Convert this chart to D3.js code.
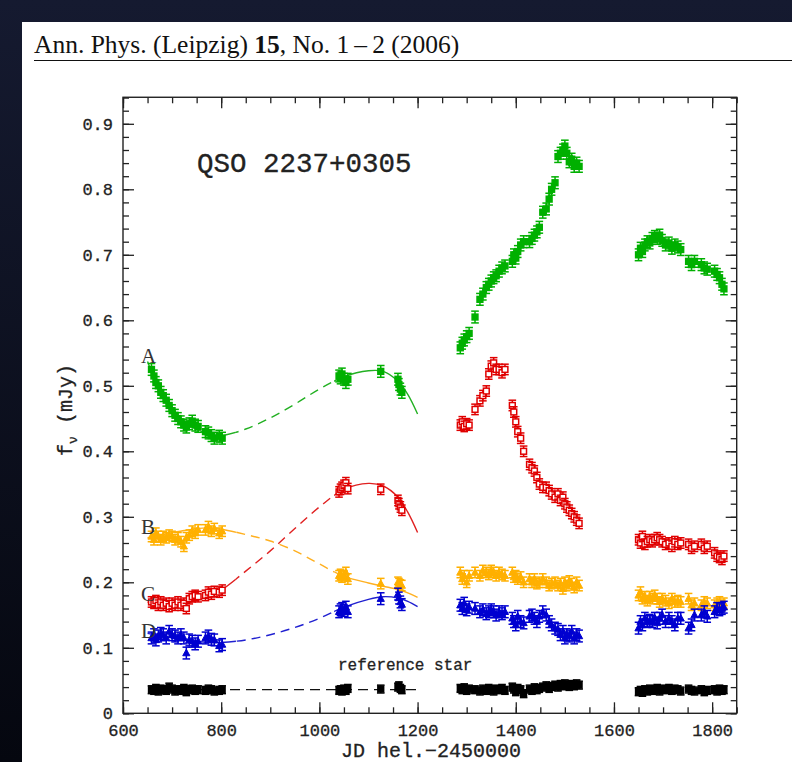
<!DOCTYPE html>
<html>
<head>
<meta charset="utf-8">
<script src="https://cdn.jsdelivr.net/npm/d3@7"></script>
<style>
  html, body { margin: 0; padding: 0; background: #0c1020; }
  svg { display: block; }
</style>
</head>
<body>
<svg id="chart" width="792" height="762"></svg>
<script>
// Observation epochs (JD - 2450000), four observing seasons
const epochs = [
  658, 663, 667, 672, 677, 682, 688, 694, 700, 706, 712, 718, 724, 729, 735, 741, 747, 753, 768, 774, 780, 786, 796, 802,
  1040, 1043, 1046, 1050, 1054, 1058, 1125, 1160, 1162, 1165, 1168,
  1287, 1291, 1295, 1300, 1305, 1317, 1327, 1333, 1340, 1345, 1350, 1355, 1360, 1366, 1372, 1378, 1393, 1396, 1400, 1404, 1410,
  1416, 1428, 1433, 1438, 1443, 1448, 1455, 1462, 1468, 1473, 1480, 1486, 1491, 1496, 1500, 1504, 1509, 1514, 1519, 1524, 1529,
  1650, 1654, 1658, 1663, 1668, 1673, 1678, 1683, 1688, 1693, 1698, 1705, 1712, 1718, 1724, 1730, 1736, 1752, 1758, 1764,
  1778, 1784, 1790, 1805, 1810, 1815, 1820, 1824
];

// Image A flux (mJy)
const fluxA = [
  0.525, 0.515, 0.505, 0.500, 0.490, 0.485, 0.478, 0.470, 0.462, 0.455, 0.450, 0.445, 0.440, 0.437, 0.442, 0.446, 0.440, 0.438, 0.430, 0.428, 0.424, 0.420, 0.423, 0.420,
  0.515, 0.512, 0.518, 0.510, 0.505, 0.510, 0.522, 0.510, 0.502, 0.495, 0.490,
  0.558, 0.565, 0.570, 0.575, 0.580, 0.605, 0.632, 0.640, 0.650, 0.655, 0.660, 0.665, 0.668, 0.675, 0.680, 0.683, 0.690, 0.700, 0.695, 0.705, 0.715,
  0.720, 0.720, 0.725, 0.730, 0.735, 0.742, 0.765, 0.770, 0.785, 0.800, 0.810, 0.850, 0.855, 0.860, 0.866, 0.855, 0.842, 0.846, 0.835, 0.840, 0.835,
  0.700, 0.710, 0.705, 0.715, 0.720, 0.718, 0.725, 0.728, 0.725, 0.730, 0.722, 0.715, 0.718, 0.710, 0.715, 0.712, 0.708, 0.690, 0.685, 0.690,
  0.685, 0.680, 0.678, 0.675, 0.670, 0.665, 0.655, 0.648
];

// Image B flux (mJy)
const fluxB = [
  0.270, 0.265, 0.275, 0.270, 0.265, 0.270, 0.268, 0.272, 0.270, 0.265, 0.268, 0.262, 0.255, 0.268, 0.272, 0.278, 0.275, 0.280, 0.280, 0.285, 0.278, 0.282, 0.275, 0.278,
  0.210, 0.212, 0.208, 0.210, 0.215, 0.205, 0.198, 0.200, 0.198, 0.196, 0.195,
  0.215, 0.205, 0.210, 0.200, 0.210, 0.215, 0.210, 0.218, 0.215, 0.212, 0.218, 0.215, 0.210, 0.215, 0.212, 0.210, 0.215, 0.208, 0.210, 0.205, 0.208,
  0.200, 0.205, 0.200, 0.205, 0.198, 0.200, 0.205, 0.200, 0.195, 0.198, 0.200, 0.195, 0.198, 0.190, 0.200, 0.195, 0.202, 0.198, 0.192, 0.200, 0.195,
  0.180, 0.185, 0.175, 0.178, 0.172, 0.178, 0.175, 0.180, 0.175, 0.170, 0.175, 0.172, 0.168, 0.175, 0.170, 0.172, 0.170, 0.175, 0.165, 0.168,
  0.165, 0.170, 0.168, 0.165, 0.168, 0.170, 0.165, 0.168
];

// Image C flux (mJy)
const fluxC = [
  0.170, 0.168, 0.172, 0.165, 0.170, 0.165, 0.168, 0.163, 0.168, 0.165, 0.170, 0.165, 0.168, 0.160, 0.175, 0.178, 0.180, 0.178, 0.180, 0.185, 0.182, 0.186, 0.185, 0.188,
  0.338, 0.342, 0.345, 0.348, 0.352, 0.343, 0.342, 0.325, 0.320, 0.315, 0.310,
  0.440, 0.445, 0.438, 0.442, 0.440, 0.464, 0.477, 0.485, 0.492, 0.518, 0.530, 0.535, 0.525, 0.525, 0.520, 0.525, 0.470, 0.460, 0.445, 0.430, 0.420,
  0.400, 0.380, 0.375, 0.370, 0.360, 0.350, 0.345, 0.345, 0.340, 0.335, 0.330, 0.335, 0.325, 0.330, 0.320, 0.315, 0.310, 0.305, 0.300, 0.295, 0.290,
  0.265, 0.260, 0.270, 0.258, 0.262, 0.265, 0.262, 0.265, 0.268, 0.265, 0.262, 0.258, 0.260, 0.255, 0.262, 0.258, 0.260, 0.258, 0.252, 0.255,
  0.258, 0.252, 0.255, 0.245, 0.240, 0.238, 0.235, 0.240
];

// Image D flux (mJy)
const fluxD = [
  0.115, 0.120, 0.112, 0.118, 0.122, 0.120, 0.115, 0.125, 0.120, 0.118, 0.115, 0.120, 0.115, 0.092, 0.112, 0.110, 0.106, 0.110, 0.115, 0.118, 0.113, 0.112, 0.103, 0.105,
  0.155, 0.158, 0.160, 0.157, 0.162, 0.155, 0.175, 0.182, 0.176, 0.170, 0.166,
  0.165, 0.160, 0.168, 0.158, 0.162, 0.160, 0.155, 0.158, 0.152, 0.155, 0.158, 0.155, 0.150, 0.155, 0.152, 0.155, 0.145, 0.140, 0.135, 0.148, 0.140,
  0.138, 0.148, 0.150, 0.145, 0.140, 0.148, 0.155, 0.150, 0.140, 0.135, 0.130, 0.128, 0.120, 0.125, 0.115, 0.120, 0.118, 0.125, 0.115, 0.120, 0.118,
  0.130, 0.140, 0.135, 0.145, 0.140, 0.142, 0.140, 0.145, 0.138, 0.145, 0.150, 0.140, 0.145, 0.140, 0.135, 0.145, 0.145, 0.130, 0.135, 0.150,
  0.150, 0.155, 0.148, 0.155, 0.160, 0.158, 0.160, 0.162
];

// Reference star flux (mJy)
const fluxRef = [
  0.036, 0.035, 0.038, 0.034, 0.037, 0.036, 0.035, 0.040, 0.037, 0.034, 0.036, 0.035, 0.038, 0.033, 0.036, 0.037, 0.035, 0.036, 0.035, 0.037, 0.036, 0.034, 0.035, 0.036,
  0.035, 0.036, 0.034, 0.037, 0.035, 0.038, 0.037, 0.040, 0.042, 0.038, 0.036,
  0.038, 0.036, 0.039, 0.035, 0.037, 0.036, 0.034, 0.037, 0.035, 0.038, 0.036, 0.034, 0.037, 0.036, 0.038, 0.035, 0.040, 0.037, 0.033, 0.038, 0.036,
  0.030, 0.037, 0.035, 0.039, 0.036, 0.038, 0.040, 0.042, 0.038, 0.041, 0.043, 0.040, 0.044, 0.042, 0.045, 0.043, 0.041, 0.044, 0.042, 0.045, 0.043,
  0.033, 0.035, 0.032, 0.036, 0.034, 0.037, 0.035, 0.036, 0.038, 0.034, 0.037, 0.036, 0.038, 0.035, 0.037, 0.036, 0.034, 0.037, 0.035, 0.034,
  0.036, 0.033, 0.035, 0.036, 0.034, 0.037, 0.035, 0.036
];

// Typical photometric errors (mJy)
const errA = 0.009, errB = 0.008, errC = 0.008, errD = 0.009, errRef = 0.006;

// Model light curves through the first two seasons
const modelJD = [650, 675, 700, 725, 750, 775, 800, 850, 900, 950, 1000, 1050, 1100, 1130, 1160, 1180, 1200];
const modelA  = [0.537, 0.492, 0.465, 0.446, 0.434, 0.427, 0.424, 0.434, 0.451, 0.472, 0.495, 0.514, 0.523, 0.522, 0.507, 0.487, 0.457];
const modelB  = [0.268, 0.272, 0.276, 0.279, 0.282, 0.283, 0.281, 0.273, 0.263, 0.248, 0.228, 0.209, 0.199, 0.194, 0.189, 0.184, 0.177];
const modelC  = [0.170, 0.167, 0.166, 0.168, 0.172, 0.179, 0.188, 0.217, 0.248, 0.282, 0.315, 0.342, 0.351, 0.347, 0.330, 0.307, 0.276];
const modelD  = [0.122, 0.118, 0.115, 0.112, 0.110, 0.108, 0.108, 0.112, 0.120, 0.131, 0.145, 0.162, 0.174, 0.178, 0.176, 0.171, 0.163];
const modelRefJD = [655, 1200];
const modelRef   = [0.036, 0.036];
const dashedSpan = [830, 1030];

// Axis ticks
const xMajor = [600, 800, 1000, 1200, 1400, 1600, 1800];
const xMinor = d3.range(600, 1851, 50);
const yMajor = [0, 0.1, 0.2, 0.3, 0.4, 0.5, 0.6, 0.7, 0.8, 0.9];
const yMinor = d3.range(0, 0.941, 0.02);

const svg = d3.select("#chart");

// Page background and sheet
const defs = svg.append("defs");
const bg = defs.append("linearGradient").attr("id", "bg").attr("x1", 0).attr("y1", 0).attr("x2", 0).attr("y2", 1);
bg.append("stop").attr("offset", "0%").attr("stop-color", "#151a30");
bg.append("stop").attr("offset", "100%").attr("stop-color", "#05070f");
svg.append("rect").attr("width", 792).attr("height", 762).attr("fill", "url(#bg)");
svg.append("rect").attr("x", 22).attr("y", 22).attr("width", 770).attr("height", 740).attr("fill", "#ffffff");

// Running head
const head = svg.append("text").attr("x", 34).attr("y", 53)
  .attr("font-family", "Liberation Serif, Times New Roman, serif").attr("font-size", 25.5).attr("fill", "#111");
head.append("tspan").text("Ann. Phys. (Leipzig) ");
head.append("tspan").attr("font-weight", "bold").text("15");
head.append("tspan").text(", No. 1\u2009\u2013\u20092 (2006)");
svg.append("line").attr("x1", 34).attr("x2", 792).attr("y1", 60.5).attr("y2", 60.5)
  .attr("stroke", "#111").attr("stroke-width", 1.2);

// Scales
const x = d3.scaleLinear().domain([600, 1850]).range([123, 736.7]);
const y = d3.scaleLinear().domain([0, 0.9]).range([713.3, 123.8]);
const yTop = y(0.9405);

const mono = "Liberation Mono, Courier New, monospace";
const ink = "#222";

// Axes: ticks point inward on all four sides
function styleAxis(g) {
  g.select(".domain").remove();
  g.selectAll(".tick line").attr("stroke", ink).attr("stroke-width", 1.3);
  g.selectAll("text").attr("font-family", mono).attr("fill", ink)
    .attr("stroke", ink).attr("stroke-width", 0.3);
}
svg.append("g").attr("transform", `translate(0,${y(0)})`)
  .call(d3.axisBottom(x).tickValues(xMinor).tickSize(-6).tickFormat(""))
  .call(styleAxis);
svg.append("g").attr("transform", `translate(0,${y(0)})`)
  .call(d3.axisBottom(x).tickValues(xMajor).tickSize(-11).tickPadding(11).tickFormat(d3.format("d")))
  .call(styleAxis)
  .selectAll("text").attr("font-size", 17);
svg.append("g").attr("transform", `translate(0,${yTop})`)
  .call(d3.axisTop(x).tickValues(xMinor).tickSize(-6).tickFormat(""))
  .call(styleAxis);
svg.append("g").attr("transform", `translate(0,${yTop})`)
  .call(d3.axisTop(x).tickValues(xMajor).tickSize(-11).tickFormat(""))
  .call(styleAxis);
svg.append("g").attr("transform", `translate(${x(600)},0)`)
  .call(d3.axisLeft(y).tickValues(yMinor).tickSize(-6).tickFormat(""))
  .call(styleAxis);
svg.append("g").attr("transform", `translate(${x(600)},0)`)
  .call(d3.axisLeft(y).tickValues(yMajor).tickSize(-11).tickPadding(10)
    .tickFormat(d => d === 0 ? "0" : d3.format(".1f")(d)))
  .call(styleAxis)
  .selectAll("text").attr("font-size", 17);
svg.append("g").attr("transform", `translate(${x(1850)},0)`)
  .call(d3.axisRight(y).tickValues(yMinor).tickSize(-6).tickFormat(""))
  .call(styleAxis);
svg.append("g").attr("transform", `translate(${x(1850)},0)`)
  .call(d3.axisRight(y).tickValues(yMajor).tickSize(-11).tickFormat(""))
  .call(styleAxis);
svg.append("rect").attr("x", x(600)).attr("y", yTop)
  .attr("width", x(1850) - x(600)).attr("height", y(0) - yTop)
  .attr("fill", "none").attr("stroke", ink).attr("stroke-width", 1.4);

// Axis titles
svg.append("text").attr("x", 431).attr("y", 757).attr("text-anchor", "middle")
  .attr("font-family", mono).attr("font-size", 20).attr("fill", ink)
  .attr("stroke", ink).attr("stroke-width", 0.3)
  .text("JD hel.\u22122450000");
const yl = svg.append("text").attr("transform", "translate(72,410) rotate(-90)")
  .attr("text-anchor", "middle").attr("font-family", mono).attr("font-size", 20).attr("fill", ink)
  .attr("stroke", ink).attr("stroke-width", 0.3);
yl.append("tspan").text("f");
yl.append("tspan").attr("font-size", 13).attr("dy", 5).text("\u03bd");
yl.append("tspan").attr("dy", -5).text(" (mJy)");

// Model curves: solid where data exist, dashed across the gap
const clipSolid = defs.append("clipPath").attr("id", "solid");
clipSolid.append("rect").attr("x", 0).attr("y", 0).attr("width", x(dashedSpan[0])).attr("height", 762);
clipSolid.append("rect").attr("x", x(dashedSpan[1])).attr("y", 0).attr("width", 792).attr("height", 762);
defs.append("clipPath").attr("id", "gap").append("rect")
  .attr("x", x(dashedSpan[0])).attr("y", 0).attr("width", x(dashedSpan[1]) - x(dashedSpan[0])).attr("height", 762);

const line = d3.line().x(d => x(d[0])).y(d => y(d[1])).curve(d3.curveCatmullRom.alpha(0.5));
const models = [
  { jd: modelJD, v: modelA, color: "#22b022" },
  { jd: modelJD, v: modelC, color: "#e02020" },
  { jd: modelJD, v: modelB, color: "#ffb020" },
  { jd: modelJD, v: modelD, color: "#2020d0" }
];
models.forEach(m => {
  const pts = m.jd.map((j, i) => [j, m.v[i]]);
  svg.append("path").attr("d", line(pts)).attr("clip-path", "url(#solid)")
    .attr("fill", "none").attr("stroke", m.color).attr("stroke-width", 1.4);
  svg.append("path").attr("d", line(pts)).attr("clip-path", "url(#gap)")
    .attr("fill", "none").attr("stroke", m.color).attr("stroke-width", 1.4).attr("stroke-dasharray", "9,6");
});
svg.append("path").attr("d", d3.line().x(d => x(d[0])).y(d => y(d[1]))(modelRefJD.map((j, i) => [j, modelRef[i]])))
  .attr("fill", "none").attr("stroke", "#111").attr("stroke-width", 1.3).attr("stroke-dasharray", "10,6");

// Photometry with error bars
const series = [
  { v: fluxA, err: errA, color: "#00b000", shape: "square", fill: true },
  { v: fluxC, err: errC, color: "#e00000", shape: "square", fill: false },
  { v: fluxB, err: errB, color: "#ffb000", shape: "triangle", fill: true },
  { v: fluxD, err: errD, color: "#0000d0", shape: "triangle", fill: true },
  { v: fluxRef, err: errRef, color: "#000000", shape: "square", fill: true }
];
const cap = 3.8;
series.forEach(s => {
  const g = svg.append("g").attr("stroke", s.color).attr("stroke-width", 1.5);
  epochs.forEach((j, i) => {
    const cx = x(j), cy = y(s.v[i]);
    const y0 = y(s.v[i] - s.err), y1 = y(s.v[i] + s.err);
    g.append("line").attr("x1", cx).attr("x2", cx).attr("y1", y0).attr("y2", y1);
    g.append("line").attr("x1", cx - cap).attr("x2", cx + cap).attr("y1", y0).attr("y2", y0);
    g.append("line").attr("x1", cx - cap).attr("x2", cx + cap).attr("y1", y1).attr("y2", y1);
    if (s.shape === "square") {
      g.append("rect").attr("x", cx - 2.9).attr("y", cy - 2.9).attr("width", 5.8).attr("height", 5.8)
        .attr("fill", s.fill ? s.color : "#fff");
    } else {
      g.append("path").attr("d", `M${cx},${cy - 3.8}L${cx + 3.6},${cy + 2.7}L${cx - 3.6},${cy + 2.7}Z`)
        .attr("fill", s.color).attr("stroke-width", 1);
    }
  });
});

// Labels
svg.append("text").attr("x", 197).attr("y", 172).attr("font-family", mono)
  .attr("font-size", 27.5).attr("fill", ink).attr("stroke", ink).attr("stroke-width", 0.35)
  .text("QSO 2237+0305");
svg.append("text").attr("x", 338).attr("y", 670).attr("font-family", mono)
  .attr("font-size", 16).attr("fill", ink).attr("stroke", ink).attr("stroke-width", 0.3)
  .text("reference star");
const serif = "Liberation Serif, Times New Roman, serif";
[["A", 363], ["B", 534], ["C", 601], ["D", 638]].forEach(([t, yy]) => {
  svg.append("text").attr("x", 141).attr("y", yy).attr("font-family", serif)
    .attr("font-size", 21).attr("fill", "#333").text(t);
});
</script>
</body>
</html>
